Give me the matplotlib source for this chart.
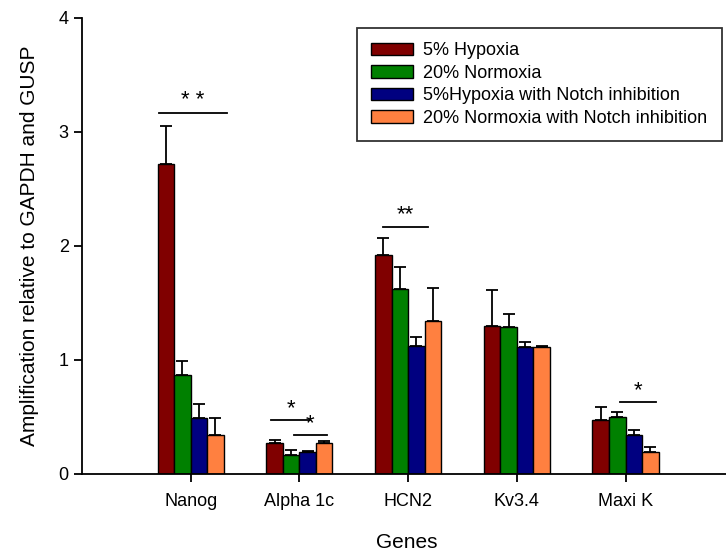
import numpy as np
import matplotlib
matplotlib.use('Agg')
import matplotlib.pyplot as plt

plt.rcParams['font.family'] = ['Liberation Sans', 'DejaVu Sans']

# gene groups and series
genes = ['Nanog', 'Alpha 1c', 'HCN2', 'Kv3.4', 'Maxi K']
series = ['5% Hypoxia', '20% Normoxia', '5%Hypoxia with Notch inhibition',
          '20% Normoxia with Notch inhibition']
colors = ['#800000', '#008000', '#000080', '#FF8040']

hypoxia = [2.72, 0.27, 1.92, 1.30, 0.47]
normoxia = [0.87, 0.17, 1.62, 1.29, 0.50]
hypoxia_notch = [0.49, 0.19, 1.12, 1.11, 0.34]
normoxia_notch = [0.34, 0.27, 1.34, 1.11, 0.19]

hypoxia_err = [0.33, 0.03, 0.15, 0.31, 0.12]
normoxia_err = [0.12, 0.04, 0.20, 0.11, 0.04]
hypoxia_notch_err = [0.12, 0.01, 0.08, 0.05, 0.05]
normoxia_notch_err = [0.15, 0.02, 0.29, 0.015, 0.045]

values = [hypoxia, normoxia, hypoxia_notch, normoxia_notch]
errors = [hypoxia_err, normoxia_err, hypoxia_notch_err, normoxia_notch_err]

# significance markers: (x start, x end, line y, label)
sig_lines = [
    (0.71, 1.33, 3.17, '* *'),
    (1.74, 2.10, 0.47, '*'),
    (1.95, 2.25, 0.34, '*'),
    (2.77, 3.18, 2.17, '**'),
    (4.95, 5.28, 0.63, '*'),
]

fig = plt.figure(figsize=(7.26, 5.52), dpi=100)
ax = fig.add_axes([82 / 726, 78 / 552, 650 / 726, 456 / 552])

x = np.arange(1, len(genes) + 1)
w = 0.152
for i in range(4):
    pos = x + (i - 1.5) * w
    ax.bar(pos, values[i], width=w, color=colors[i], edgecolor='black',
           linewidth=1.0, label=series[i], zorder=2)
    ax.errorbar(pos, values[i], yerr=[np.zeros(len(genes)), errors[i]],
                fmt='none', ecolor='black', elinewidth=1.3, capsize=4.5,
                capthick=1.3, zorder=1)

for x0, x1, y, lab in sig_lines:
    ax.plot([x0, x1], [y, y], color='black', lw=1.3)
    ax.text((x0 + x1) / 2, y + 0.01, lab, ha='center', va='bottom', fontsize=16)

ax.set_xlim(0, 650 / 108.7)
ax.set_ylim(0, 4)
ax.set_yticks([0, 1, 2, 3, 4])
ax.set_xticks(x)
ax.set_xticklabels(genes)
ax.spines['top'].set_visible(False)
ax.spines['right'].set_visible(False)
ax.spines['left'].set_linewidth(1.3)
ax.spines['bottom'].set_linewidth(1.3)
ax.tick_params(axis='both', direction='out', length=6, width=1.3,
               labelsize=13, colors='black')
ax.tick_params(axis='x', pad=8)

ax.set_ylabel('Amplification relative to GAPDH and GUSP', fontsize=15, labelpad=14)
ax.set_xlabel('Genes', fontsize=15, labelpad=16)

leg = ax.legend(loc='upper right', bbox_to_anchor=(640 / 650, 1 - 10 / 456),
                fontsize=13, frameon=True, fancybox=False, edgecolor='black',
                handlelength=2.3, handleheight=0.7, handletextpad=0.6,
                labelspacing=0.3, borderpad=0.8, borderaxespad=0)
leg.get_frame().set_linewidth(1.3)

fig.savefig('out.png', dpi=100)
